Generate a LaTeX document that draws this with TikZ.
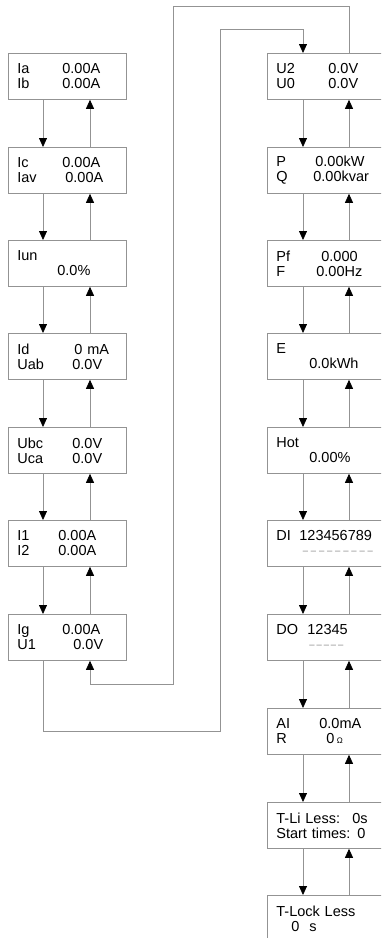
\documentclass[tikz,border=0pt]{standalone}
\usepackage{fontspec}
\setmainfont{Liberation Sans}
\usetikzlibrary{arrows.meta}

\newcommand{\rowtxt}[3]{\makebox[#2][l]{#1}#3}
\newcommand{\dashcell}[1]{\makebox[#1]{\scalebox{1.5}[1]{-}}}

\begin{document}
\begin{tikzpicture}[x=1pt,y=-1pt,font=\fontsize{14.5}{15}\selectfont,
  box/.style={draw=gray!85,line width=0.8pt,anchor=north west,minimum height=46pt,
    text width=100pt,inner xsep=9pt,inner ysep=0pt,align=left},
  flow/.style={draw=gray!85,line width=0.8pt,-{Triangle[length=9pt,width=8pt,color=black]}}]
\clip (0,0) rectangle (381,938);
% left column
\node[box] (iab) at (8,53) {\rowtxt{Ia}{45pt}{0.00A}\\\rowtxt{Ib}{45pt}{0.00A}};
\node[box] (icav) at (8,147) {\rowtxt{Ic}{45pt}{0.00A}\\\rowtxt{Iav}{48pt}{0.00A}};
\node[box] (iun) at (8,240) {Iun\\\hspace*{40pt}0.0\%};
\node[box] (iduab) at (8,333) {\rowtxt{Id}{57pt}{0 mA}\\\rowtxt{Uab}{55pt}{0.0V}};
\node[box] (ubca) at (8,427) {\rowtxt{Ubc}{55pt}{0.0V}\\\rowtxt{Uca}{55pt}{0.0V}};
\node[box] (i12) at (8,520) {\rowtxt{I1}{41pt}{0.00A}\\\rowtxt{I2}{41pt}{0.00A}};
\node[box] (igu1) at (8,614) {\rowtxt{Ig}{45pt}{0.00A}\\\rowtxt{U1}{56pt}{0.0V}};
% right column
\node[box] (u20) at (267,53) {\rowtxt{U2}{52pt}{0.0V}\\\rowtxt{U0}{52pt}{0.0V}};
\node[box] (pq) at (267,147) {\rowtxt{P}{39pt}{0.00kW}\\\rowtxt{Q}{37pt}{0.00kvar}};
\node[box] (pff) at (267,240) {\rowtxt{Pf}{45pt}{0.000}\\\rowtxt{F}{40pt}{0.00Hz}};
\node[box] (e) at (267,333) {E\\\hspace*{33pt}0.0kWh};
\node[box] (hot) at (267,427) {Hot\\\hspace*{33pt}0.00\%};
\node[box] (di) at (267,520) {\rowtxt{DI}{23pt}{123456789}\\\hspace*{25pt}{\color{gray!55}\dashcell{8.1pt}\dashcell{8.1pt}\dashcell{8.1pt}\dashcell{8.1pt}\dashcell{8.1pt}\dashcell{8.1pt}\dashcell{8.1pt}\dashcell{8.1pt}\dashcell{8.1pt}}};
\node[box] (do) at (267,614) {\rowtxt{DO}{31pt}{12345}\\\hspace*{32pt}{\color{gray!55}\dashcell{7.2pt}\dashcell{7.2pt}\dashcell{7.2pt}\dashcell{7.2pt}\dashcell{7.2pt}}};
\node[box] (air) at (267,708) {\rowtxt{AI}{43pt}{0.0mA}\\\rowtxt{R}{50pt}{0\,{\footnotesize Ω}}};
\node[box] (tli) at (267,802) {\rowtxt{T-Li Less:}{76pt}{0s}\\\rowtxt{Start times:}{81pt}{0}};
\node[box] (tlock) at (267,895) {T-Lock Less\\\hspace*{15pt}\rowtxt{0}{18pt}{s}};
% down and up arrows, left
\draw[flow] ([xshift=35pt]iab.south west) -- ([xshift=35pt]icav.north west);
\draw[flow] ([xshift=82pt]icav.north west) -- ([xshift=82pt]iab.south west);
\draw[flow] ([xshift=35pt]icav.south west) -- ([xshift=35pt]iun.north west);
\draw[flow] ([xshift=82pt]iun.north west) -- ([xshift=82pt]icav.south west);
\draw[flow] ([xshift=35pt]iun.south west) -- ([xshift=35pt]iduab.north west);
\draw[flow] ([xshift=82pt]iduab.north west) -- ([xshift=82pt]iun.south west);
\draw[flow] ([xshift=35pt]iduab.south west) -- ([xshift=35pt]ubca.north west);
\draw[flow] ([xshift=82pt]ubca.north west) -- ([xshift=82pt]iduab.south west);
\draw[flow] ([xshift=35pt]ubca.south west) -- ([xshift=35pt]i12.north west);
\draw[flow] ([xshift=82pt]i12.north west) -- ([xshift=82pt]ubca.south west);
\draw[flow] ([xshift=35pt]i12.south west) -- ([xshift=35pt]igu1.north west);
\draw[flow] ([xshift=82pt]igu1.north west) -- ([xshift=82pt]i12.south west);
% down and up arrows, right
\draw[flow] ([xshift=36pt]u20.south west) -- ([xshift=36pt]pq.north west);
\draw[flow] ([xshift=82pt]pq.north west) -- ([xshift=82pt]u20.south west);
\draw[flow] ([xshift=36pt]pq.south west) -- ([xshift=36pt]pff.north west);
\draw[flow] ([xshift=82pt]pff.north west) -- ([xshift=82pt]pq.south west);
\draw[flow] ([xshift=36pt]pff.south west) -- ([xshift=36pt]e.north west);
\draw[flow] ([xshift=82pt]e.north west) -- ([xshift=82pt]pff.south west);
\draw[flow] ([xshift=36pt]e.south west) -- ([xshift=36pt]hot.north west);
\draw[flow] ([xshift=82pt]hot.north west) -- ([xshift=82pt]e.south west);
\draw[flow] ([xshift=36pt]hot.south west) -- ([xshift=36pt]di.north west);
\draw[flow] ([xshift=82pt]di.north west) -- ([xshift=82pt]hot.south west);
\draw[flow] ([xshift=36pt]di.south west) -- ([xshift=36pt]do.north west);
\draw[flow] ([xshift=82pt]do.north west) -- ([xshift=82pt]di.south west);
\draw[flow] ([xshift=36pt]do.south west) -- ([xshift=36pt]air.north west);
\draw[flow] ([xshift=82pt]air.north west) -- ([xshift=82pt]do.south west);
\draw[flow] ([xshift=36pt]air.south west) -- ([xshift=36pt]tli.north west);
\draw[flow] ([xshift=82pt]tli.north west) -- ([xshift=82pt]air.south west);
\draw[flow] ([xshift=36pt]tli.south west) -- ([xshift=36pt]tlock.north west);
\draw[flow] ([xshift=82pt]tlock.north west) -- ([xshift=82pt]tli.south west);
% loops between the columns
\coordinate (lowturn) at (220,731);
\coordinate (topturn) at (303,29);
\coordinate (outtop) at (173,6);
\coordinate (outlow) at (173,684);
\draw[flow] ([xshift=35pt]igu1.south west) |- (lowturn) |- (topturn) -- ([xshift=36pt]u20.north west);
\draw[flow] ([xshift=82pt]u20.north west) |- (outtop) -- (outlow) -| ([xshift=82pt]igu1.south west);
\end{tikzpicture}
\end{document}
